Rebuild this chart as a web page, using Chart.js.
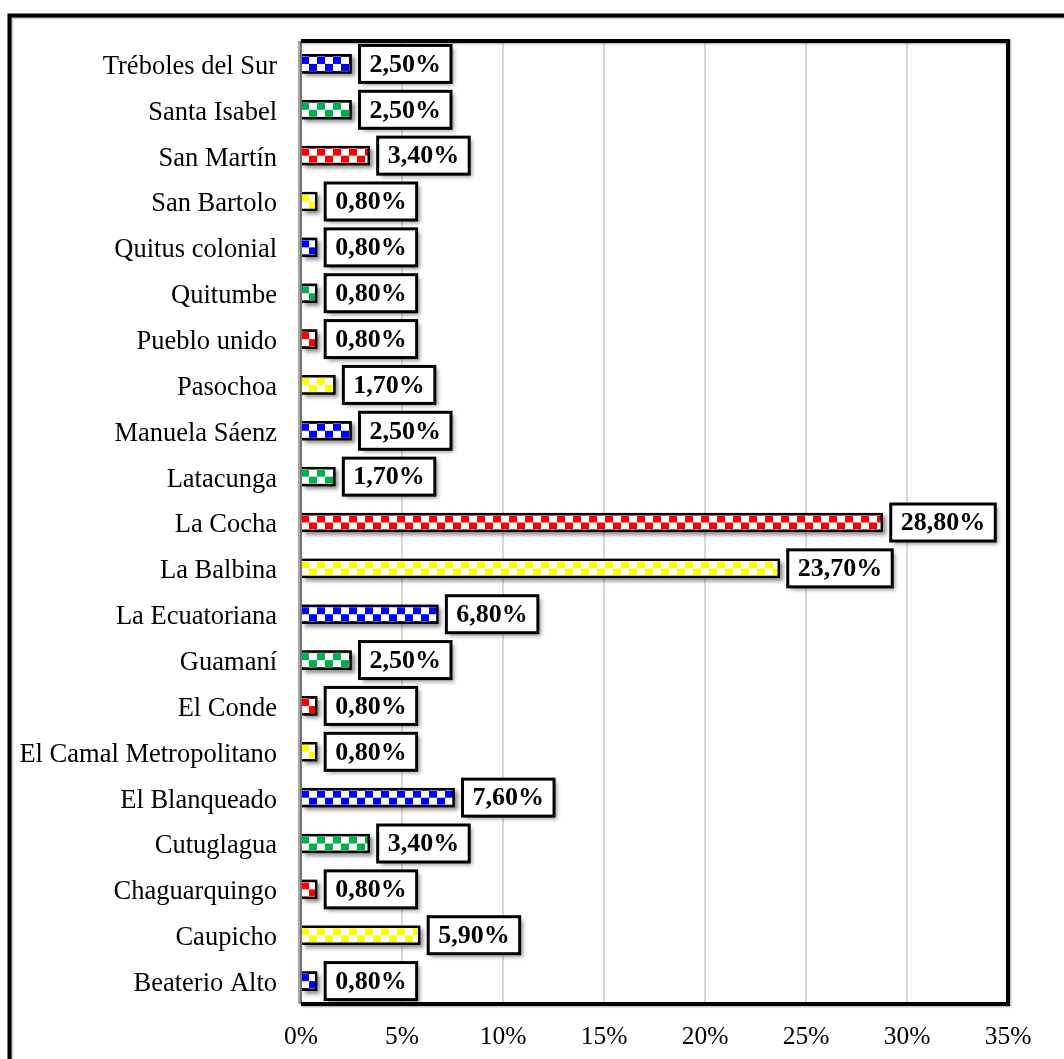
<!DOCTYPE html>
<html>
<head>
<meta charset="utf-8">
<script src="https://cdn.jsdelivr.net/npm/chart.js@4.4.1/dist/chart.umd.min.js"></script>
<style>
  html, body { margin: 0; padding: 0; background: #fff; }
  #wrap { width: 1064px; height: 1059px; position: relative; }
</style>
</head>
<body>
<div id="wrap"><canvas id="barrios" width="1064" height="1059"></canvas></div>
<script>
// barrios, top to bottom
const barrios = [
  'Tréboles del Sur', 'Santa Isabel', 'San Martín', 'San Bartolo', 'Quitus colonial',
  'Quitumbe', 'Pueblo unido', 'Pasochoa', 'Manuela Sáenz', 'Latacunga',
  'La Cocha', 'La Balbina', 'La Ecuatoriana', 'Guamaní', 'El Conde',
  'El Camal Metropolitano', 'El Blanqueado', 'Cutuglagua', 'Chaguarquingo', 'Caupicho',
  'Beaterio Alto'
];
const porcentajes = [
  2.5, 2.5, 3.4, 0.8, 0.8,
  0.8, 0.8, 1.7, 2.5, 1.7,
  28.8, 23.7, 6.8, 2.5, 0.8,
  0.8, 7.6, 3.4, 0.8, 5.9,
  0.8
];
// colour cycle for the checkered fill
const colores = ['#0000ff', '#00b050', '#ff0000', '#ffff00'];
const ticksX = [0, 5, 10, 15, 20, 25, 30, 35];

const BAR_H = 19, BAR_BORDER = 2.5, CELL_W = 8, CELL_H = 7;
const SERIF = '"Liberation Serif", "Times New Roman", serif';

function checker(color) {
  const c = document.createElement('canvas');
  c.width = CELL_W * 2; c.height = CELL_H * 2;
  const g = c.getContext('2d');
  g.fillStyle = '#fff'; g.fillRect(0, 0, c.width, c.height);
  g.fillStyle = color;
  g.fillRect(0, 0, CELL_W, CELL_H);
  g.fillRect(CELL_W, CELL_H, CELL_W, CELL_H);
  return c;
}
const tiles = colores.map(checker);

// pattern anchored at each bar's own top-left so every bar starts on a coloured cell
function barFill(ctx) {
  const chart = ctx.chart;
  const i = ctx.dataIndex;
  const tile = tiles[i % colores.length];
  const pat = chart.ctx.createPattern(tile, 'repeat');
  const xs = chart.scales.x, ys = chart.scales.y;
  if (xs && ys && i !== undefined) {
    const x0 = xs.getPixelForValue(0);
    const y0 = ys.getPixelForValue(i) - BAR_H / 2 + BAR_BORDER;
    pat.setTransform(new DOMMatrix().translate(x0, y0));
  }
  return pat;
}

const fmt = v => v.toFixed(2).replace('.', ',') + '%';

// shadows under the bars, plot frame and outer frame
const framePlugin = {
  id: 'frame',
  beforeDatasetsDraw(chart) {
    const { ctx, chartArea: a } = chart;
    const meta = chart.getDatasetMeta(0);
    ctx.save();
    ctx.shadowColor = 'rgba(0,0,0,0.45)';
    ctx.shadowBlur = 4;
    ctx.shadowOffsetX = 3;
    ctx.shadowOffsetY = 3;
    ctx.fillStyle = '#000';
    meta.data.forEach(bar => {
      const { x, y, base, height } = bar.getProps(['x', 'y', 'base', 'height'], true);
      ctx.fillRect(base, y - height / 2, x - base, height);
    });
    ctx.restore();

    // left axis line
    ctx.save();
    ctx.strokeStyle = '#a6a6a6';
    ctx.lineWidth = 4;
    ctx.beginPath(); ctx.moveTo(a.left - 1, a.top); ctx.lineTo(a.left - 1, a.bottom); ctx.stroke();
    ctx.strokeStyle = '#404040';
    ctx.lineWidth = 1;
    ctx.beginPath(); ctx.moveTo(a.left, a.top); ctx.lineTo(a.left, a.bottom); ctx.stroke();
    ctx.restore();
  },
  afterDraw(chart) {
    const { ctx, chartArea: a } = chart;
    ctx.save();
    ctx.strokeStyle = '#000';
    ctx.lineWidth = 4;
    ctx.shadowColor = 'rgba(0,0,0,0.35)';
    ctx.shadowBlur = 2;
    ctx.shadowOffsetX = 1;
    ctx.shadowOffsetY = 1;
    ctx.beginPath();
    ctx.moveTo(a.left, a.top);
    ctx.lineTo(a.right, a.top);
    ctx.lineTo(a.right, a.bottom);
    ctx.lineTo(a.left, a.bottom);
    ctx.stroke();
    // outer border, runs off the right and bottom edges
    ctx.beginPath();
    ctx.moveTo(9.5, 1080);
    ctx.lineTo(9.5, 15.5);
    ctx.lineTo(1080, 15.5);
    ctx.stroke();
    ctx.restore();
  }
};

// boxed value labels after each bar
const valueBoxes = {
  id: 'valueBoxes',
  afterDatasetsDraw(chart) {
    const { ctx } = chart;
    const meta = chart.getDatasetMeta(0);
    const vals = chart.data.datasets[0].data;
    ctx.save();
    ctx.font = 'bold 26px ' + SERIF;
    ctx.textBaseline = 'middle';
    ctx.textAlign = 'left';
    meta.data.forEach((bar, i) => {
      const { x, y } = bar.getProps(['x', 'y'], true);
      const txt = fmt(vals[i]);
      const w = ctx.measureText(txt).width + 20;
      const h = 37;
      const bx = x + 8, by = y - h / 2;
      ctx.save();
      ctx.shadowColor = 'rgba(0,0,0,0.4)';
      ctx.shadowBlur = 4;
      ctx.shadowOffsetX = 3;
      ctx.shadowOffsetY = 3;
      ctx.fillStyle = '#fff';
      ctx.fillRect(bx, by, w, h);
      ctx.restore();
      ctx.strokeStyle = '#000';
      ctx.lineWidth = 3;
      ctx.strokeRect(bx, by, w, h);
      ctx.fillStyle = '#000';
      ctx.fillText(txt, bx + 10, y + 1);
    });
    ctx.restore();
  }
};

new Chart(document.getElementById('barrios'), {
  type: 'bar',
  data: {
    labels: barrios,
    datasets: [{
      data: porcentajes,
      backgroundColor: barFill,
      borderColor: '#000',
      borderWidth: BAR_BORDER,
      barThickness: BAR_H
    }]
  },
  options: {
    indexAxis: 'y',
    responsive: false,
    animation: false,
    devicePixelRatio: 1,
    layout: { padding: { top: 41, right: 56, left: 0, bottom: 0 } },
    plugins: {
      legend: { display: false },
      tooltip: { enabled: false }
    },
    scales: {
      x: {
        min: 0, max: 35,
        afterBuildTicks: s => { s.ticks = ticksX.map(v => ({ value: v })); },
        afterFit: s => { s.height = 55; },
        grid: { color: '#d9d9d9', lineWidth: 2, drawTicks: false },
        border: { display: false },
        ticks: {
          color: '#000',
          padding: 18,
          maxRotation: 0,
          font: { family: SERIF, size: 25.5 },
          callback: v => v + '%'
        }
      },
      y: {
        afterFit: s => { s.width = 301; },
        grid: { display: false, drawTicks: false },
        border: { display: false },
        ticks: {
          color: '#000',
          padding: 24,
          labelOffset: 3,
          autoSkip: false,
          font: { family: SERIF, size: 26.5 }
        }
      }
    }
  },
  plugins: [framePlugin, valueBoxes]
});
</script>
</body>
</html>
